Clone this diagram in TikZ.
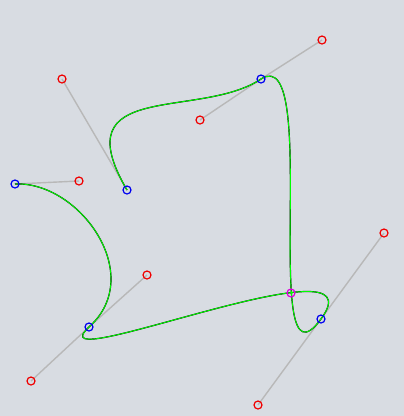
\documentclass[tikz,border=0pt]{standalone}
\definecolor{bg}{RGB}{216,220,226}
\definecolor{handle}{RGB}{184,184,184}
\definecolor{curvegreen}{RGB}{0,255,0}
\definecolor{ptred}{RGB}{240,0,0}
\definecolor{ptblue}{RGB}{0,0,240}
\definecolor{ptmag}{RGB}{220,0,220}
\begin{document}
\begin{tikzpicture}[x=1pt,y=-1pt,
  pt/.style={circle,draw,line width=1.2pt,inner sep=0pt,minimum size=8pt},
  ctrl/.style={pt,draw=ptred},
  anch/.style={pt,draw=ptblue},
  joint/.style={pt,draw=ptmag},
  handleline/.style={draw=handle,line width=1.4pt},
  outer/.style={draw=black,line width=1.2pt,xshift=-0.7pt,yshift=-0.7pt},
  inner/.style={draw=curvegreen,line width=0.9pt,xshift=0.5pt,yshift=0.5pt}]
\fill[bg] (0,0) rectangle (404,416);
\useasboundingbox (0,0) rectangle (404,416);
% points
\coordinate (A1) at (15,184);
\coordinate (C1) at (79,181);
\coordinate (C2) at (147,275);
\coordinate (A2) at (89,327);
\coordinate (C3) at (31,381);
\coordinate (C4) at (384,233);
\coordinate (A3) at (321,319);
\coordinate (C5) at (258,405);
\coordinate (C6) at (322,40);
\coordinate (A4) at (261,79);
\coordinate (C7) at (200,120);
\coordinate (C8) at (62,79);
\coordinate (A5) at (127,190);
\coordinate (M) at (291,293);
% handles
\draw[handleline] (A1) -- (C1);
\draw[handleline] (C2) -- (A2) -- (C3);
\draw[handleline] (C4) -- (A3) -- (C5);
\draw[handleline] (C6) -- (A4) -- (C7);
\draw[handleline] (C8) -- (A5);
% curve
\foreach \sty in {outer,inner}{
\draw[\sty] (A1) .. controls (C1) and (C2) .. (A2)
  .. controls (C3) and (C4) .. (A3)
  .. controls (C5) and (C6) .. (A4)
  .. controls (C7) and (C8) .. (A5);
}
% markers
\foreach \n in {C1,C2,C3,C4,C5,C6,C7,C8}{\node[ctrl] (n\n) at (\n) {};}
\foreach \n in {A1,A2,A3,A4,A5}{\node[anch] (n\n) at (\n) {};}
\node[joint] (nM) at (M) {};
\end{tikzpicture}
\end{document}
